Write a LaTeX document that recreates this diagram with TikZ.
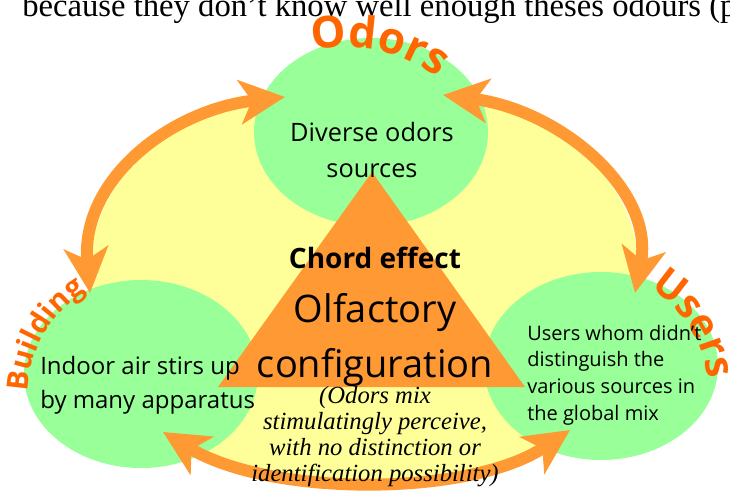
\documentclass[tikz,border=0pt]{standalone}
\usepackage{fontspec}
\setmainfont{Open Sans}
\newfontfamily\serifrm{Liberation Serif}
\usetikzlibrary{arrows.meta,decorations.text,shapes.geometric}
\definecolor{ylw}{RGB}{255,255,153}
\definecolor{grn}{RGB}{153,255,153}
\definecolor{arr}{RGB}{255,153,51}
\definecolor{lbl}{RGB}{255,102,0}
\tikzset{
  blob/.style={ellipse, fill=grn, inner sep=0pt, minimum width=175.5pt, minimum height=141pt},
  bigarrow/.style={draw=arr, line width=9pt,
    {Stealth[length=34pt,width=33pt,inset=9pt]}-{Stealth[length=34pt,width=33pt,inset=9pt]}},
  curvelabel/.style={decorate, decoration={text along path, text color=lbl, text align=center, text={#1}}},
  txt/.style={inner sep=0pt, text=black}
}
\begin{document}
\begin{tikzpicture}[x=0.75pt,y=-0.75pt]
\useasboundingbox (0,0) rectangle (730,493);
\clip (0,0) rectangle (730,493);
% top cut sentence
\node[txt, anchor=base west, font=\serifrm\fontsize{24.5}{28}\selectfont] (topline) at (22,16) {because they don’t know well enough theses odours (p};
% arc end points
\coordinate (tlA) at (90,293);
\coordinate (tlB) at (285,97);
\coordinate (trA) at (443,95);
\coordinate (trB) at (635,293);
\coordinate (bA) at (163,432);
\coordinate (bB) at (570,430);
% yellow background
\fill[ylw] (tlA) .. controls (80,180) and (170,110) .. (tlB) -- (trA)
  .. controls (560,110) and (655,190) .. (trB) -- (bB)
  .. controls (470,497) and (270,497) .. (bA) -- cycle;
% green ellipses
\node[blob] (odors) at (371,132) {};
\node[blob] (building) at (141,374) {};
\node[blob] (users) at (601,366) {};
% triangle
\coordinate (apex) at (372,172);
\coordinate (baseL) at (218,387);
\coordinate (baseR) at (525,387);
\fill[arr] (apex) -- (baseL) -- (baseR) -- cycle;
% arrows
\draw[bigarrow] (tlA) .. controls (80,180) and (170,110) .. (tlB);
\draw[bigarrow] (trA) .. controls (560,110) and (655,190) .. (trB);
\draw[bigarrow] (bA) .. controls (270,497) and (470,497) .. (bB);
% curved labels
\path[curvelabel={|\fontsize{33}{33}\selectfont\bfseries|Odors}]
  (345,200) ++(-112.5:153) arc[start angle=-112.5, end angle=-42.5, radius=153];
\path[curvelabel={|\fontsize{22}{22}\selectfont\bfseries|Building}]
  (150,395) ++(-190:122) arc[start angle=-190, end angle=-110, radius=122];
\path[curvelabel={|\fontsize{30}{30}\selectfont\bfseries|Users}]
  (590,390) ++(-75:118) arc[start angle=-75, end angle=10, radius=118];
% texts
\node[txt, align=center, font=\fontsize{19}{27}\selectfont] (divtxt) at (372,150) {Diverse odors\\sources};
\node[txt, anchor=base, font=\bfseries\fontsize{21}{25}\selectfont] (chord) at (375,268) {Chord effect};
\node[txt, align=center, font=\fontsize{28.5}{41}\selectfont] (olf) at (375,340) {Olfactory\\configuration};
\node[txt, align=left, anchor=west, font=\fontsize{18}{25.5}\selectfont] (indoor) at (40,385) {Indoor air stirs up\\by many apparatus};
\node[txt, align=left, anchor=west, font=\fontsize{15}{20}\selectfont] (userstxt) at (527,375) {Users whom didn't\\distinguish the\\various sources in\\the global mix};
\node[txt, align=center, font=\serifrm\itshape\fontsize{18.5}{19.5}\selectfont] (mix) at (375,437) {(Odors mix\\stimulatingly perceive,\\with no distinction or\\identification possibility)};
\end{tikzpicture}
\end{document}
